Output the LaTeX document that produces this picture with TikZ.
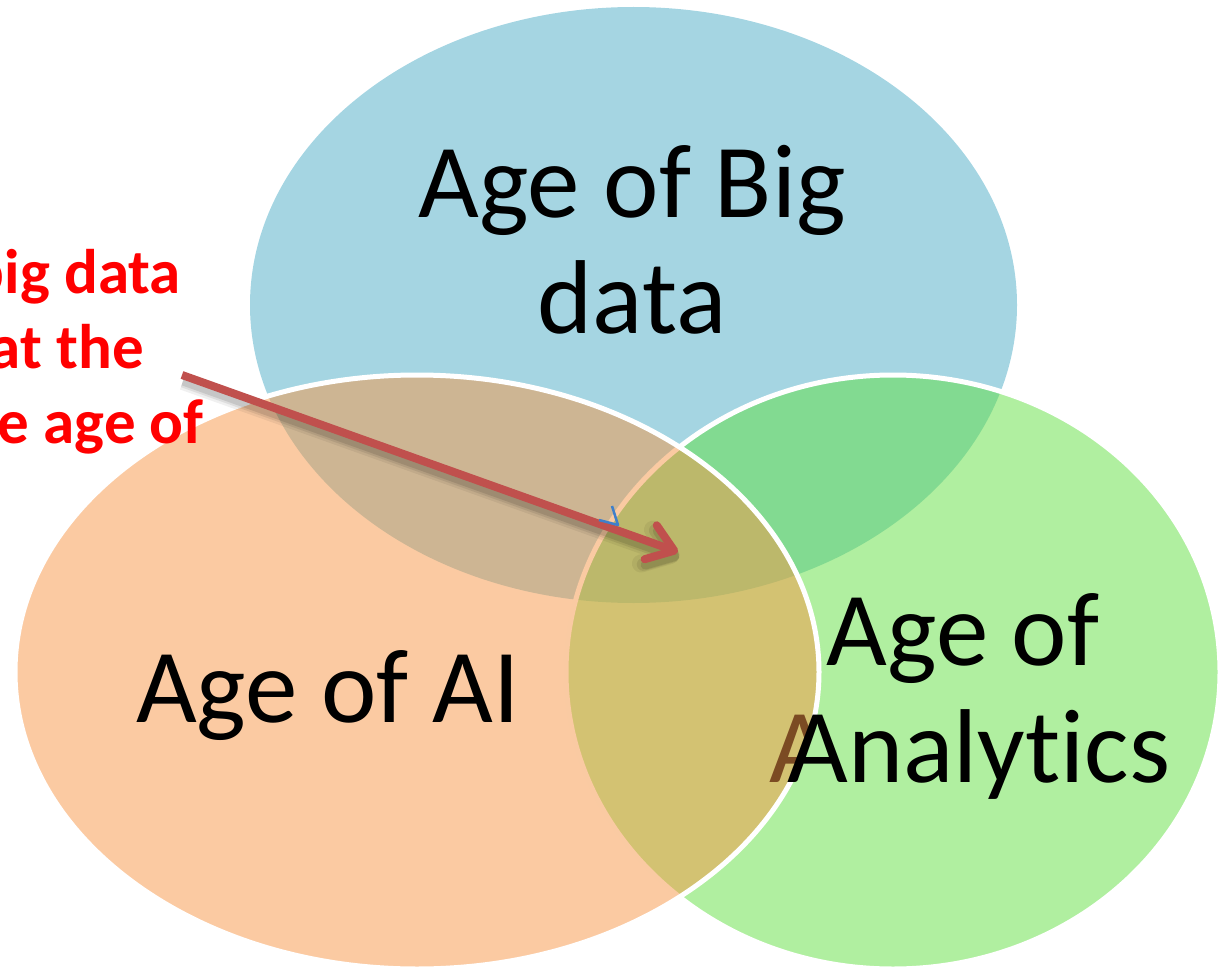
\documentclass[tikz,border=0pt]{standalone}
\usepackage{fontspec}
\setmainfont{Carlito}[Ligatures=NoCommon]
\usetikzlibrary{arrows.meta}
\definecolor{bluefill}{HTML}{4BACC6}
\definecolor{orangefill}{HTML}{F79646}
\definecolor{greenfill}{RGB}{97,223,65}
\definecolor{arrowred}{HTML}{C0504D}
\definecolor{markblue}{HTML}{3F7FCA}
\begin{document}
\begin{tikzpicture}[x=1pt,y=-1pt,
  halffill/.style={fill opacity=0.5},
  rim/.style={draw=white,line width=5pt},
  bigtext/.style={font=\fontsize{105}{116}\selectfont, inner sep=0pt, anchor=base},
  redtext/.style={font=\fontsize{63}{75}\selectfont\bfseries, text=red, inner sep=0pt, anchor=base east},
  pointer/.style={line width=8pt, -{Straight Barb[length=25pt,width=36pt,round]}},
  ]
\useasboundingbox (0,0) rectangle (1221,971);
\clip (0,0) rectangle (1221,971);

% Big data set
\fill[bluefill, halffill] (633.5,305) ellipse [x radius=383.5pt, y radius=298pt];

% Analytics set
\fill[greenfill, halffill] (893,672) ellipse [x radius=327pt, y radius=297pt];
\draw[rim] (893,672) ellipse [x radius=327pt, y radius=297pt];

% stray letter lying under the AI set
\begin{scope}
  \clip (417,672) ellipse [x radius=402pt, y radius=297pt];
  \node[bigtext, anchor=base west] (strayA) at (769,782) {A};
\end{scope}

% AI set
\fill[orangefill, halffill] (417,672) ellipse [x radius=402pt, y radius=297pt];
\draw[rim] (417,672) ellipse [x radius=402pt, y radius=297pt];

% set labels
\node[bigtext] (big1) at (632,217) {Age of Big};
\node[bigtext] (big2) at (632,333) {data};
\node[bigtext] (ai) at (328,722) {Age of AI};
\node[bigtext] (an1) at (963,665) {Age of};
\node[bigtext] (an2) at (979,782) {Analytics};

% side note
\node[redtext] (note1) at (181,293) {big data};
\node[redtext] (note2) at (144,368) {at the};
\node[redtext] (note3) at (204,443) {e age of};

% pointer into the common region, with a soft shadow
\coordinate (tail) at (182,375);
\coordinate (head) at (678,552);
\foreach \w/\o in {18/0.06, 13/0.08, 9/0.10} {
  \begin{scope}[transparency group, opacity=\o]
    \draw[black, pointer, line width=\w pt] ([shift={(1,6)}]tail) -- ([shift={(1,6)}]head);
  \end{scope}
}
\draw[arrowred, pointer] (tail) -- (head);

% small tick mark
\draw[markblue, line width=2.5pt, line join=round] (612,506) -- (618,525) -- (599,520);
\end{tikzpicture}
\end{document}
